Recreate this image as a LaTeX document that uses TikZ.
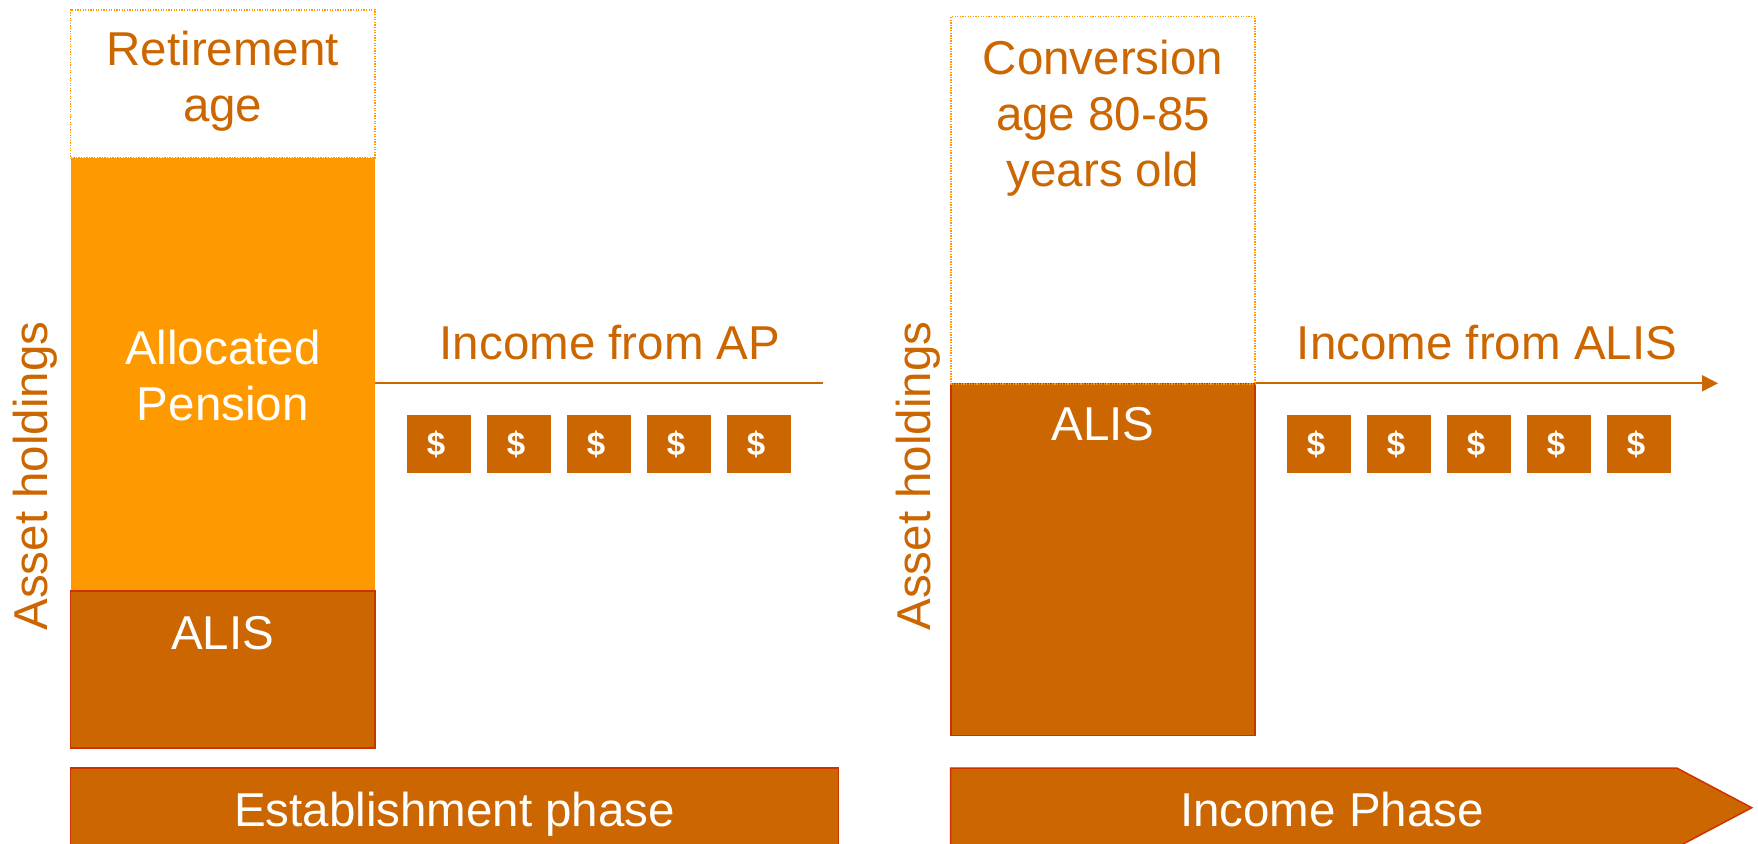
\documentclass[tikz,border=0pt]{standalone}
\usepackage{fontspec}
\setmainfont{Liberation Sans}
\usetikzlibrary{arrows.meta}
\definecolor{dorange}{HTML}{CC6600}
\definecolor{lorange}{HTML}{FF9900}
\definecolor{edgered}{HTML}{CC3300}
\begin{document}
\begin{tikzpicture}[x=1pt,y=-1pt,
  dotbox/.style={draw=lorange, line width=1.3pt, dash pattern=on 1.3pt off 1.3pt, inner sep=0pt},
  apbox/.style={fill=lorange, inner sep=0pt},
  alisbox/.style={fill=dorange, draw=edgered, line width=1.5pt, inner sep=0pt},
  dollar/.style={fill=dorange, minimum width=64pt, minimum height=58pt, inner sep=0pt,
    text=white, font=\bfseries\fontsize{33}{33}\selectfont},
  lbl/.style={text=dorange, font=\fontsize{47.5}{56}\selectfont, align=center, anchor=base, inner sep=0pt},
  wlbl/.style={lbl, text=white},
  flow/.style={draw=dorange, line width=2pt}
]
\useasboundingbox (0,0) rectangle (1758,843);
\fill[white] (0,0) rectangle (1758,843);

% ---- left column ----
\node[dotbox, minimum width=304.4pt, minimum height=148pt] (retire) at (222.8,84) {};
\node[apbox, minimum width=304.4pt, minimum height=433pt] (ap) at (222.8,374.5) {};
\node[alisbox, minimum width=304.4pt, minimum height=157pt] (alisL) at (222.8,669.5) {};

% multi-line nodes: base anchor = baseline of the last line
\node[lbl] (retireT) at (222.8,121.7) {Retirement\\age};
\node[wlbl] (apT) at (222.8,420.7) {Allocated\\Pension};
\node[wlbl] (alisLT) at (222.8,649.3) {ALIS};
\node[lbl, rotate=90] (ahL) at (47,476) {Asset holdings};

\coordinate (apEnd) at (822.7,383.3);
\draw[flow] (ap.east |- apEnd) -- (apEnd);
\node[lbl] (apInc) at (610,359) {Income from AP};

\foreach \i in {0,...,4}{
  \node[dollar] (dL\i) at (439+80*\i,444) {\hspace*{-6pt}\$};
}

% ---- right column ----
\node[dotbox, minimum width=304pt, minimum height=366.6pt] (conv) at (1103,200) {};
\node[alisbox, minimum width=304pt, minimum height=352.2pt] (alisR) at (1103,559.4) {};
\draw[dotbox] (conv.south west) -- (conv.south east);

\node[lbl] (convT) at (1103,186) {Conversion\\age 80-85\\years old};
\node[wlbl] (alisRT) at (1103,440) {ALIS};
\node[lbl, rotate=90] (ahR) at (930,476) {Asset holdings};

\coordinate (alisEnd) at (1718,383.3);
\draw[flow, -{Triangle[length=16pt,width=16pt]}] (alisR.east |- alisEnd) -- (alisEnd);
\node[lbl] (alisInc) at (1487,359) {Income from ALIS};

\foreach \i in {0,...,4}{
  \node[dollar] (dR\i) at (1319+80*\i,444) {\hspace*{-6pt}\$};
}

% ---- phase bars ----
\node[alisbox, minimum width=768pt, minimum height=80pt] (est) at (454.6,808) {};
\node[wlbl] (estT) at (454.6,826) {Establishment phase};

\filldraw[fill=dorange, draw=edgered, line width=1.5pt]
  (950.5,768) -- (1676.7,768) -- (1751.7,807.7) -- (1676.7,847.4) -- (950.5,847.4) -- cycle;
\node[wlbl] (incT) at (1332,826) {Income Phase};
\end{tikzpicture}
\end{document}
